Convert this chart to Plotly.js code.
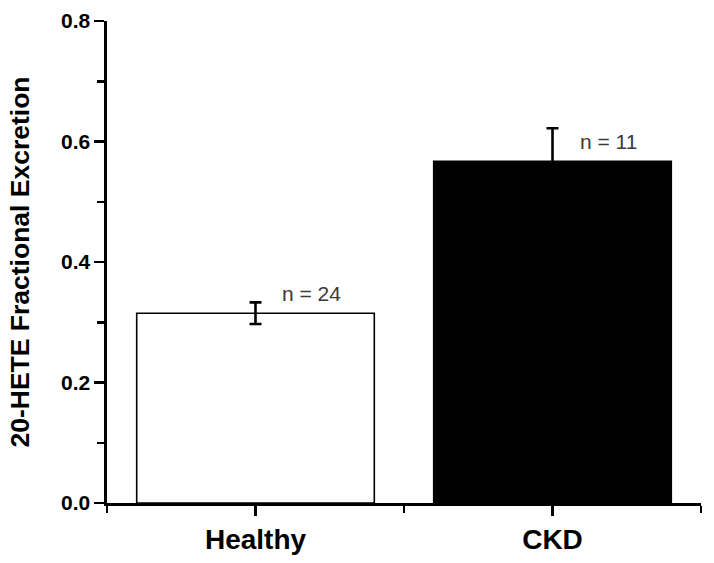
<!DOCTYPE html>
<html>
<head>
<meta charset="utf-8">
<script src="https://cdn.plot.ly/plotly-3.0.1.min.js"></script>
<style>html,body{margin:0;padding:0;background:#fff;}#chart{width:714px;height:563px;}</style>
</head>
<body>
<div id="chart"></div>
<script>
// ---- data ----
const categories = ["Healthy", "CKD"];
const meanValues = [0.315, 0.567];
const semValues = [0.018, 0.055];
const nValues = [24, 11];
const barFills = ["#ffffff", "#000000"];
const yTickVals = [0, 0.2, 0.4, 0.6, 0.8];
const yTickText = ["0.0", "0.2", "0.4", "0.6", "0.8"];

const xIdx = categories.map((c, i) => i);
const FONT = "Arial, 'Liberation Sans', sans-serif";

const barTrace = {
  type: "bar",
  x: xIdx,
  y: meanValues,
  width: 0.8,
  marker: { color: barFills, line: { color: "#000", width: 1.6 } },
  error_y: {
    type: "data",
    array: semValues,
    arrayminus: semValues,
    visible: true,
    color: "#000",
    thickness: 2.6,
    width: 6
  },
  hoverinfo: "skip"
};

const annotations = categories.map((c, i) => ({
  x: i + 0.19,
  y: meanValues[i],
  xref: "x",
  yref: "y",
  text: "n = " + nValues[i],
  showarrow: false,
  xanchor: "center",
  yanchor: "middle",
  yshift: 20,
  font: { family: FONT, size: 21, color: "#3a3a3a" }
}));

const layout = {
  width: 714,
  height: 563,
  margin: { l: 107, r: 13, t: 21, b: 60 },
  paper_bgcolor: "#fff",
  plot_bgcolor: "#fff",
  showlegend: false,
  bargap: 0.2,
  xaxis: {
    range: [-0.5, 1.5],
    tickmode: "array",
    tickvals: xIdx,
    ticktext: categories,
    ticks: "outside",
    ticklen: 10,
    tickwidth: 2.5,
    tickcolor: "#000",
    showline: true,
    linecolor: "#000",
    linewidth: 2.6,
    showgrid: false,
    zeroline: false,
    tickfont: { family: FONT, size: 28, color: "#000", weight: "bold" },
    minor: { tick0: -0.5, dtick: 1, ticks: "outside", ticklen: 7, tickwidth: 2.5, tickcolor: "#000", showgrid: false },
    fixedrange: true
  },
  yaxis: {
    range: [0, 0.8],
    tickmode: "array",
    tickvals: yTickVals,
    ticktext: yTickText,
    ticks: "outside",
    ticklen: 10,
    tickwidth: 2.5,
    tickcolor: "#000",
    showline: true,
    linecolor: "#000",
    linewidth: 2.6,
    showgrid: false,
    zeroline: false,
    tickfont: { family: FONT, size: 21, color: "#000", weight: "bold" },
    minor: { tick0: 0.1, dtick: 0.2, ticks: "outside", ticklen: 7, tickwidth: 2.5, tickcolor: "#000", showgrid: false },
    title: { text: "20-HETE Fractional Excretion", font: { family: FONT, size: 26.5, color: "#000", weight: "bold" }, standoff: 24 },
    fixedrange: true
  },
  annotations: annotations
};

Plotly.newPlot("chart", [barTrace], layout, { displayModeBar: false, staticPlot: true });
</script>
</body>
</html>
